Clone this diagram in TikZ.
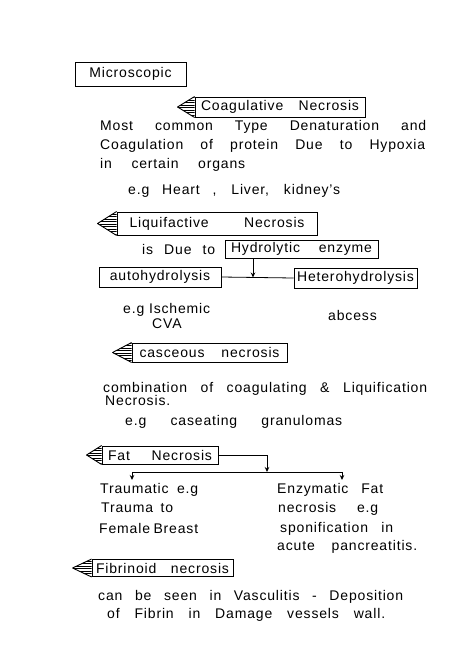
\documentclass[tikz,border=0pt]{standalone}
\usepackage{fontspec}
\setmainfont{Liberation Sans}[LetterSpace=6]
\usetikzlibrary{calc,arrows.meta}
\newcommand{\sline}[2]{\makebox[#1pt][s]{#2}}
\newcommand{\hflag}[2]{%
 \begin{scope}
 \clip (#1.north west) -- ($(#1.west)+(-#2,0)$) -- (#1.south west) -- cycle;
 \foreach \k in {-12,-9.5,...,12} \draw[line width=0.5pt] ($(#1.west)+(-#2-2,\k)$) -- ++(#2+4,0);
 \end{scope}
 \draw[line width=0.9pt,line join=round] (#1.north west) -- ($(#1.west)+(-#2,0)$) -- (#1.south west);
}
\begin{document}
\begin{tikzpicture}[x=1pt,y=-1pt,
  box/.style={draw,line width=0.9pt,inner sep=0pt,font=\fontsize{14}{16}\selectfont},
  txt/.style={anchor=base west,inner sep=0pt,font=\fontsize{14}{16}\selectfont},
  conn/.style={line width=0.8pt},
  arr/.style={conn,-{Stealth[length=5pt,width=4.5pt]}}]
\useasboundingbox (0,0) rectangle (474,670);
\fill[white] (0,0) rectangle (474,670);

% boxes
\node[box,minimum width=111pt,minimum height=24pt] (micro) at (130.5,74) {Microscopic};
\node[box,minimum width=170pt,minimum height=20pt] (coag) at (280,107) {\sline{158}{Coagulative Necrosis}};
\node[box,minimum width=200pt,minimum height=23pt] (liq) at (217,223.5) {\sline{175}{Liquifactive Necrosis}};
\node[box,minimum width=153pt,minimum height=18pt] (hydro) at (301.5,249) {\sline{141}{Hydrolytic enzyme}};
\node[box,minimum width=122pt,minimum height=20pt] (auto) at (160,277) {autohydrolysis};
\node[box,minimum width=123pt,minimum height=20pt] (hetero) at (355.5,278) {Heterohydrolysis};
\node[box,minimum width=155pt,minimum height=19pt] (cas) at (209.5,352.5) {\sline{140}{casceous necrosis}};
\node[box,minimum width=116pt,minimum height=18pt] (fat) at (160,455) {\sline{104}{Fat Necrosis}};
\node[box,minimum width=141pt,minimum height=17pt] (fib) at (162.5,568) {\sline{133}{Fibrinoid necrosis}};

% hatched flags
\hflag{coag}{17}
\hflag{liq}{19}
\hflag{cas}{19}
\hflag{fat}{15}
\hflag{fib}{19}

% texts
\node[txt] (t1) at (100,130) {\sline{326}{Most common Type Denaturation and}};
\node[txt] (t2) at (100,149) {\sline{325}{Coagulation of protein Due to Hypoxia}};
\node[txt] (t3) at (100,168) {\sline{145}{in certain organs}};
\node[txt] (t4) at (128,194) {\sline{212}{e.g Heart , Liver, kidney's}};
\node[txt] (t5) at (142,254) {\sline{73}{is Due to}};
\node[txt] (t6) at (123,313) {\sline{87}{e.g Ischemic}};
\node[txt] (t7) at (152,328) {CVA};
\node[txt] (t8) at (328,320) {abcess};
\node[txt] (t9) at (103,392) {\sline{324}{combination of coagulating \& Liquification}};
\node[txt] (t10) at (105,405) {Necrosis.};
\node[txt] (t11) at (125,425) {\sline{217}{e.g caseating granulomas}};
\node[txt] (t12) at (100,493) {\sline{98}{Traumatic e.g}};
\node[txt] (t13) at (101,512) {\sline{72}{Trauma to}};
\node[txt] (t14) at (99,533) {\sline{99}{Female Breast}};
\node[txt] (t15) at (277,493) {\sline{106}{Enzymatic Fat}};
\node[txt] (t16) at (278,512) {\sline{100}{necrosis e.g}};
\node[txt] (t17) at (280,532) {\sline{113}{sponification in}};
\node[txt] (t18) at (277,550) {\sline{140}{acute pancreatitis.}};
\node[txt] (t19) at (98,600) {\sline{305}{can be seen in Vasculitis - Deposition}};
\node[txt] (t20) at (107,618) {\sline{278}{of Fibrin in Damage vessels wall.}};

% connectors
\coordinate (j) at (253,277.5);
\draw[conn] (auto.east) -- (hetero.west);
\draw[arr] (hydro.south -| j) -- (j);

\coordinate (fj) at (267,472);
\coordinate (fl) at (132,472);
\coordinate (fr) at (342,472);
\coordinate (fla) at (132,480);
\coordinate (fra) at (342,480);
\draw[arr] (fat.east) -| (fj);
\draw[conn] (fl) -- (fr);
\draw[arr] (fl) -- (fla);
\draw[arr] (fr) -- (fra);
\end{tikzpicture}
\end{document}
